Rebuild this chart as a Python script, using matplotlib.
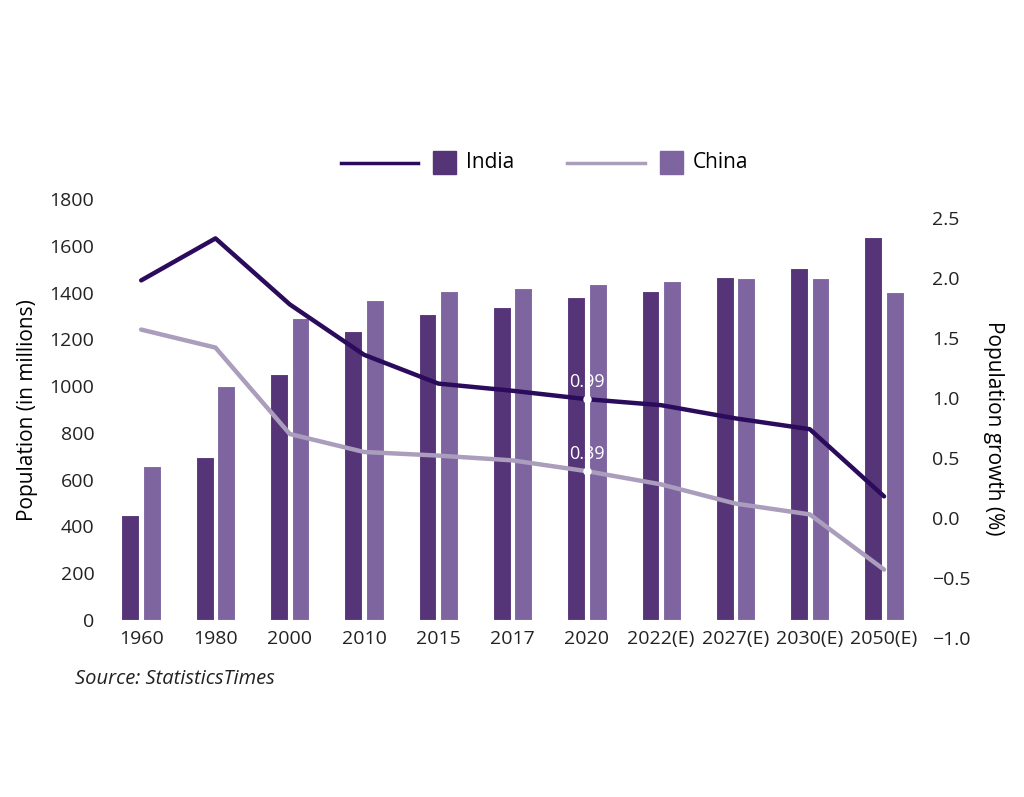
import numpy as np
import matplotlib.pyplot as plt
from matplotlib.lines import Line2D
from matplotlib.patches import Rectangle

plt.rcParams['font.family'] = ['Open Sans', 'DejaVu Sans']

# data
years = ['1960', '1980', '2000', '2010', '2015', '2017', '2020',
         '2022(E)', '2027(E)', '2030(E)', '2050(E)']
india_pop = [450, 697, 1053, 1234, 1310, 1339, 1380, 1406, 1469, 1504, 1639]
china_pop = [660, 1000, 1290, 1368, 1407, 1421, 1439, 1448, 1461, 1464, 1402]
india_growth = [1.98, 2.33, 1.78, 1.36, 1.12, 1.06, 0.99, 0.94, 0.83, 0.74, 0.18]
china_growth = [1.57, 1.42, 0.70, 0.55, 0.52, 0.48, 0.39, 0.28, 0.12, 0.03, -0.43]

c_india_bar = '#563478'
c_china_bar = '#7e65a0'
c_india_line = '#2b0b5c'
c_china_line = '#ab9dbc'

fig = plt.figure(figsize=(10.24, 7.97), dpi=100)
ax = fig.add_axes([0.1016, 0.2221, 0.798, 0.528])
x = np.arange(len(years))
w = 0.24
ax.bar(x - 0.145, india_pop, w, color=c_india_bar, edgecolor='white', linewidth=0.8)
ax.bar(x + 0.145, china_pop, w, color=c_china_bar, edgecolor='white', linewidth=0.8)
ax.set_xlim(-0.5, len(years) - 0.5)
ax.set_ylim(0, 1800)
ax.set_yticks(range(0, 1801, 200))
ax.set_xticks(x)
ax.set_xticklabels(years)
ax.tick_params(length=0, labelsize=14, pad=7, colors='#222222')
for s in ax.spines.values():
    s.set_visible(False)
ax.set_ylabel('Population (in millions)', fontsize=15, labelpad=8)

# growth lines on their own axis (right scale)
ax2 = fig.add_axes([0.1016, 0.1995, 0.798, 0.527])
ax2.patch.set_alpha(0)
ax2.plot(x, china_growth, color=c_china_line, lw=3.2, solid_capstyle='round')
ax2.plot(x, india_growth, color=c_india_line, lw=3.2, solid_capstyle='round')
ax2.set_xlim(-0.5, len(years) - 0.5)
ax2.set_ylim(-1.0, 2.5)
ticks_r = np.arange(-1.0, 2.51, 0.5)
ax2.set_yticks(ticks_r)
ax2.set_yticklabels([f'{v:.1f}'.replace('-', '\u2212') for v in ticks_r])
ax2.set_xticks([])
ax2.yaxis.tick_right()
ax2.yaxis.set_label_position('right')
ax2.tick_params(length=0, labelsize=14, pad=8, colors='#222222')
for s in ax2.spines.values():
    s.set_visible(False)
ax2.set_ylabel('Population growth (%)', fontsize=15, rotation=270, labelpad=24)

i20 = years.index('2020')
for vals in (india_growth, china_growth):
    ax2.plot(x[i20], vals[i20], 'o', color='white', ms=5, zorder=5)
    ax2.annotate(f'{vals[i20]:.2f}', (x[i20], vals[i20]), xytext=(0, 6),
                 textcoords='offset points', ha='center', va='bottom',
                 color='white', fontsize=13)

# legend
ly = 1 - 163 / 797
fig.add_artist(Line2D([341 / 1024, 418 / 1024], [ly, ly], color=c_india_line, lw=2.5))
fig.add_artist(Rectangle((433 / 1024, ly - 11 / 797), 23 / 1024, 23 / 797, color=c_india_bar))
fig.text(466 / 1024, ly, 'India', fontsize=15, va='center', ha='left')
fig.add_artist(Line2D([567 / 1024, 645 / 1024], [ly, ly], color=c_china_line, lw=2.5))
fig.add_artist(Rectangle((660 / 1024, ly - 11 / 797), 23 / 1024, 23 / 797, color=c_china_bar))
fig.text(693 / 1024, ly, 'China', fontsize=15, va='center', ha='left')

fig.text(75 / 1024, 1 - 679 / 797, 'Source: StatisticsTimes', fontsize=14.5,
         style='italic', va='center', ha='left', color='#222222')

fig.savefig('out.png', dpi=100)
